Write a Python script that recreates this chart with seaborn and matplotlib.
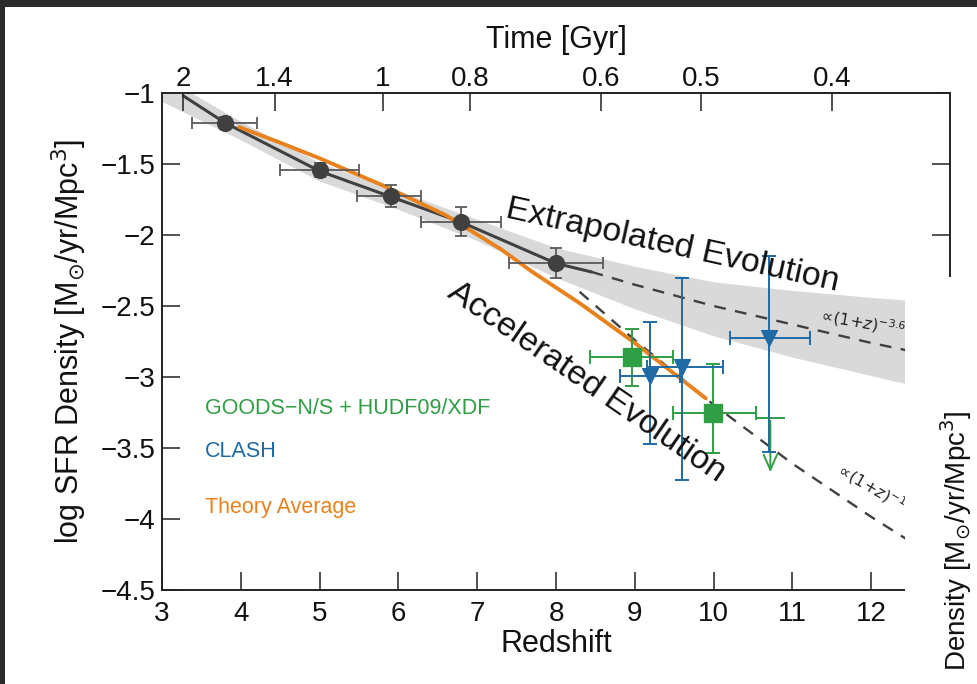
import numpy as np
import pandas as pd
import matplotlib
matplotlib.use("Agg")
import matplotlib.pyplot as plt
import seaborn as sns
from matplotlib.patches import Rectangle

# ---------------- data ----------------
obs_z = [3.8, 5.0, 5.9, 6.8, 8.0]
obs_sfrd = [-1.21, -1.54, -1.725, -1.91, -2.20]
obs_zerr_lo = [0.42, 0.50, 0.42, 0.51, 0.60]
obs_zerr_hi = [0.40, 0.50, 0.39, 0.50, 0.60]
obs_err_lo = [0.04, 0.05, 0.08, 0.10, 0.10]
obs_err_hi = [0.04, 0.05, 0.08, 0.11, 0.11]

fit_z = [3.27, 3.8, 5.0, 5.9, 6.8, 8.0, 8.45]
fit_sfrd = [-1.02, -1.21, -1.55, -1.73, -1.91, -2.20, -2.26]

ext_z = [8.45, 9.0, 10.0, 11.0, 12.0, 13.0]
ext_sfrd = [-2.26, -2.35, -2.50, -2.63, -2.76, -2.875]

acc_z = [8.3, 9.0, 10.0, 11.0, 12.0, 13.0]
acc_sfrd = [-2.40, -2.74, -3.195, -3.61, -3.985, -4.335]

band_z = [3.0, 4.0, 5.0, 6.0, 7.0, 8.0, 9.0, 10.0, 11.0, 12.0, 13.0]
band_hi = [-0.88, -1.20, -1.49, -1.69, -1.89, -2.09, -2.22, -2.33, -2.39, -2.44, -2.48]
band_lo = [-1.06, -1.33, -1.62, -1.82, -2.04, -2.30, -2.52, -2.71, -2.86, -2.99, -3.12]

theory_z = [3.98, 4.5, 5.0, 5.8, 6.6, 7.3, 7.7, 8.3, 9.0, 9.9]
theory_sfrd = [-1.24, -1.35, -1.46, -1.65, -1.86, -2.10, -2.26, -2.48, -2.76, -3.15]

goods_z = [8.96, 9.99]
goods_sfrd = [-2.86, -3.25]
goods_zerr_lo = [0.53, 0.51]
goods_zerr_hi = [0.52, 0.55]
goods_err_lo = [0.20, 0.285]
goods_err_hi = [0.20, 0.34]

goods_lim_z = [10.72]
goods_lim_sfrd = [-3.29]
goods_lim_zerr = [0.18]
goods_lim_len = [0.40]

clash_z = [9.19, 9.60, 10.70]
clash_sfrd = [-2.99, -2.93, -2.725]
clash_zerr_lo = [0.38, 0.45, 0.49]
clash_zerr_hi = [0.38, 0.52, 0.52]
clash_err_lo = [0.48, 0.795, 0.80]
clash_err_hi = [0.38, 0.63, 0.58]

time_ticks_z = [3.27, 4.43, 5.80, 6.91, 8.57, 9.84, 11.50]
time_labels = ["2", "1.4", "1", "0.8", "0.6", "0.5", "0.4"]

x_ticks = [3, 4, 5, 6, 7, 8, 9, 10, 11, 12]
y_ticks = [-1, -1.5, -2, -2.5, -3, -3.5, -4, -4.5]
y_ticklabels = ["\u22121", "\u22121.5", "\u22122", "\u22122.5", "\u22123", "\u22123.5", "\u22124", "\u22124.5"]

# ---------------- style ----------------
sns.set_theme(style="white")
plt.rcParams["font.family"] = ["Liberation Sans", "DejaVu Sans"]
plt.rcParams["axes.linewidth"] = 1.4
plt.rcParams["axes.edgecolor"] = "#222222"

C_DARK = "#404040"
C_ERR = "#5a5a5a"
C_BAND = "#d9d9d9"
C_ORANGE = "#e8821e"
C_GREEN = "#2f9e44"
C_BLUE = "#1f6aa5"

W, H = 977, 684
fig = plt.figure(figsize=(W / 100, H / 100), dpi=100)
fig.patch.set_facecolor("white")
L, R, T, B = 162, 950, 93, 590
ax = fig.add_axes([L / W, 1 - B / H, (R - L) / W, (B - T) / H])
ax.set_xlim(3, 13)
ax.set_ylim(-4.5, -1)

# band
ax.fill_between(band_z, band_lo, band_hi, color=C_BAND, lw=0, zorder=1)

# lines
sns.lineplot(x=fit_z, y=fit_sfrd, ax=ax, color=C_DARK, lw=2.2, zorder=3,
             estimator=None, sort=False)
sns.lineplot(x=ext_z, y=ext_sfrd, ax=ax, color=C_DARK, lw=1.7, zorder=2,
             linestyle=(0, (5, 4)), estimator=None, sort=False)
sns.lineplot(x=acc_z, y=acc_sfrd, ax=ax, color=C_DARK, lw=1.7, zorder=2,
             linestyle=(0, (5, 4)), estimator=None, sort=False)
sns.lineplot(x=theory_z, y=theory_sfrd, ax=ax, color=C_ORANGE, lw=2.8, zorder=4,
             estimator=None, sort=False)

# data points
ax.errorbar(obs_z, obs_sfrd, xerr=[obs_zerr_lo, obs_zerr_hi],
            yerr=[obs_err_lo, obs_err_hi], fmt="none", ecolor=C_ERR,
            elinewidth=1.3, capsize=4, capthick=1.3, zorder=5)
sns.scatterplot(x=obs_z, y=obs_sfrd, ax=ax, color=C_DARK, s=130, marker="o",
                edgecolor=C_DARK, zorder=6)

ax.errorbar(goods_z, goods_sfrd, xerr=[goods_zerr_lo, goods_zerr_hi],
            yerr=[goods_err_lo, goods_err_hi], fmt="none", ecolor=C_GREEN,
            elinewidth=1.4, capsize=5, capthick=1.4, zorder=5)
sns.scatterplot(x=goods_z, y=goods_sfrd, ax=ax, color=C_GREEN, s=150, marker="s",
                edgecolor=C_GREEN, zorder=6)
ax.errorbar(goods_lim_z, goods_lim_sfrd, xerr=goods_lim_zerr, fmt="none",
            ecolor=C_GREEN, elinewidth=1.4, capsize=0, zorder=5)
for zz, yy, ll in zip(goods_lim_z, goods_lim_sfrd, goods_lim_len):
    ax.annotate("", xy=(zz, yy - ll), xytext=(zz, yy),
                arrowprops=dict(arrowstyle="->,head_length=0.9,head_width=0.4",
                                color=C_GREEN, lw=1.4), zorder=5)

ax.errorbar(clash_z, clash_sfrd, xerr=[clash_zerr_lo, clash_zerr_hi],
            yerr=[clash_err_lo, clash_err_hi], fmt="none", ecolor=C_BLUE,
            elinewidth=1.4, capsize=5, capthick=1.4, zorder=5)
sns.scatterplot(x=clash_z, y=clash_sfrd, ax=ax, color=C_BLUE, s=130, marker="v",
                edgecolor=C_BLUE, zorder=6)

# text annotations
ax.text(7.35, -1.873, "Extrapolated Evolution", fontsize=24.5, rotation=-12.5,
        rotation_mode="anchor", ha="left", va="baseline", color="#111111", zorder=7)
ax.text(6.60, -2.43, "Accelerated Evolution", fontsize=24.5, rotation=-34.5,
        rotation_mode="anchor", ha="left", va="baseline", color="#111111", zorder=7)
ax.text(11.31, -2.60, r"$\propto\!(1\!+\!z)^{-3.6}$", fontsize=11.5, rotation=-10,
        rotation_mode="anchor", ha="left", va="baseline", color="#222222", zorder=7)
ax.text(11.52, -3.67, r"$\propto\!(1\!+\!z)^{-10}$", fontsize=11.5, rotation=-30,
        rotation_mode="anchor", ha="left", va="baseline", color="#222222", zorder=7)

ax.text(3.546, -3.225, "GOODS\u2212N/S + HUDF09/XDF", color=C_GREEN, fontsize=15.5,
        ha="left", va="center")
ax.text(3.546, -3.525, "CLASH", color=C_BLUE, fontsize=15.5, ha="left", va="center")
ax.text(3.546, -3.92, "Theory Average", color=C_ORANGE, fontsize=15.5,
        ha="left", va="center")

# axes formatting
ax.set_xticks(x_ticks)
ax.set_xticklabels([str(v) for v in x_ticks])
ax.set_yticks(y_ticks)
ax.set_yticklabels(y_ticklabels)
ax.tick_params(axis="both", direction="in", length=13, width=1.1, labelsize=20,
               color="#222222", labelcolor="#111111", pad=5)
ax.tick_params(axis="x", pad=8)
ax.tick_params(axis="y", right=True, left=True)
ax.tick_params(axis="x", top=False, bottom=True)
ax.set_xlabel("Redshift", fontsize=22, color="#111111")
ax.set_ylabel("log SFR Density [M$_{\\odot}$/yr/Mpc$^{3}$]", fontsize=22, color="#111111")
ax.xaxis.set_label_coords(0.5, -0.078)
ax.yaxis.set_label_coords(-0.093, 0.5)
for s in ax.spines.values():
    s.set_visible(True)

ax2 = ax.twiny()
ax2.set_xlim(ax.get_xlim())
ax2.set_xticks(time_ticks_z)
ax2.set_xticklabels(time_labels)
ax2.tick_params(axis="x", direction="in", length=13, width=1.1, labelsize=20,
                color="#222222", labelcolor="#111111", pad=1)
ax2.set_xlabel("Time [Gyr]", fontsize=22, color="#111111")
ax2.xaxis.set_label_coords(0.5, 1.09)
for s in ax2.spines.values():
    s.set_visible(False)

# overlay of the neighbouring panel (screenshot crop)
fig.add_artist(Rectangle((905 / W, 0), (W - 905) / W, (H - 277) / H,
                         transform=fig.transFigure, facecolor="white",
                         edgecolor="none", zorder=10))
fig.text(956 / W, 1 - 410 / H, "Density [M$_{\\odot}$/yr/Mpc$^{3}$]",
         rotation=90, fontsize=20, ha="center", va="top", color="#111111", zorder=11)

# dark screenshot frame
fig.add_artist(Rectangle((0, 1 - 7 / H), 1, 7 / H, transform=fig.transFigure,
                         facecolor="#2b2b2b", edgecolor="none", zorder=12))
fig.add_artist(Rectangle((0, 0), 5 / W, 1, transform=fig.transFigure,
                         facecolor="#2b2b2b", edgecolor="none", zorder=12))

fig.savefig("out.png", dpi=100)
